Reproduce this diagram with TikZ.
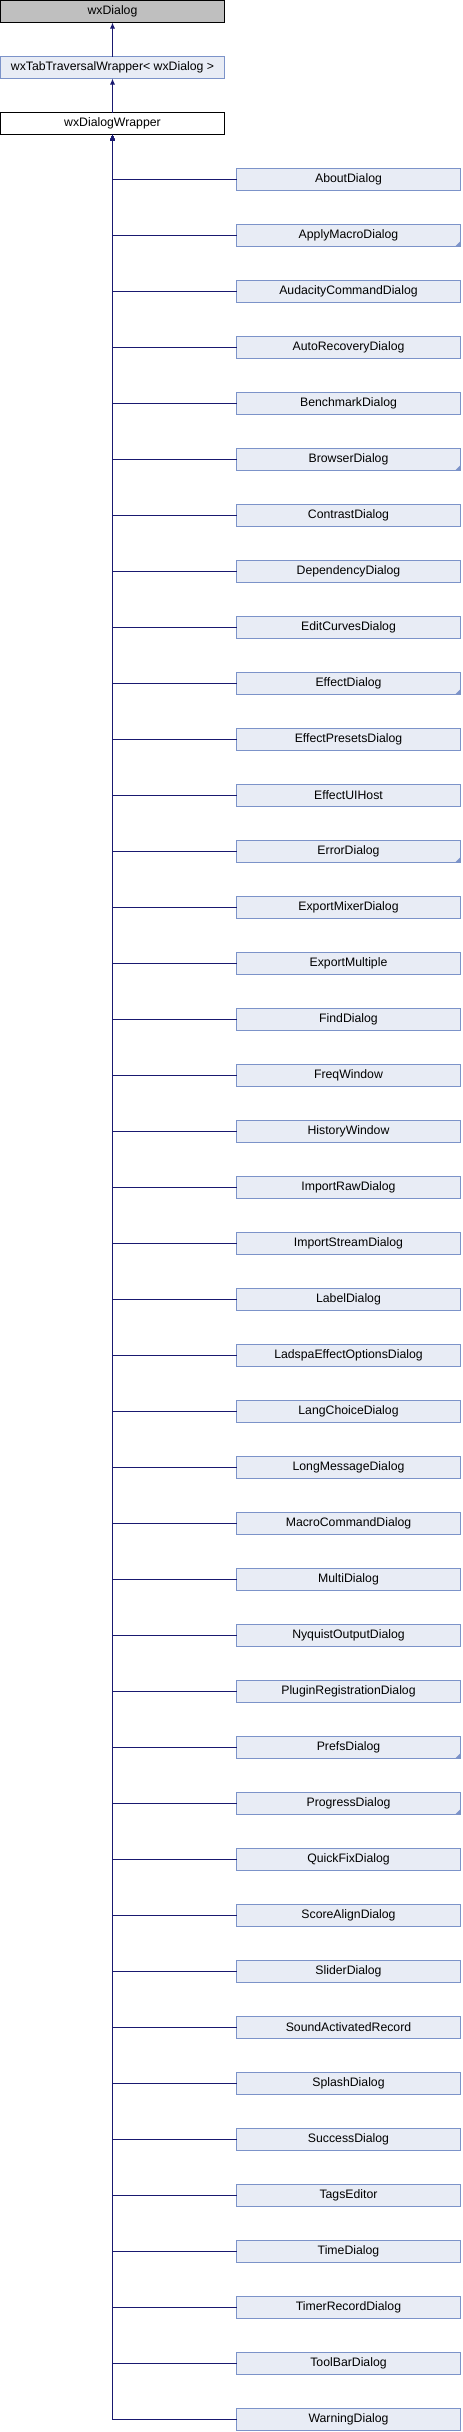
\documentclass[tikz,border=0pt]{standalone}
\usepackage{fontspec}
\setmainfont{Liberation Sans}
\usetikzlibrary{arrows.meta,positioning}
\definecolor{edgeblue}{RGB}{25,25,112}
\definecolor{clsfill}{RGB}{232,236,245}
\definecolor{clsdraw}{RGB}{124,147,201}
\definecolor{basefill}{RGB}{191,191,191}

\begin{document}
\begin{tikzpicture}[node distance=25.5pt and 9pt,
    every node/.style={minimum width=168pt,minimum height=16.5pt,inner sep=0pt,outer sep=0pt,
      line width=0.75pt,font=\fontsize{9.2}{11}\selectfont},
    base/.style={draw=black,fill=basefill},
    plain/.style={draw=black,fill=white},
    cls/.style={draw=clsdraw,fill=clsfill},
    more/.style={cls,path picture={\fill[clsdraw] (path picture bounding box.south east)
      -- ++(-4pt,0) -- ++(4pt,4pt) -- cycle;}},
    inh/.style={draw=edgeblue,line width=0.75pt,-{Latex[length=4.5pt,width=3.75pt]}}]
    \useasboundingbox (0,0) rectangle (346.5pt,-1824pt);

    \node [base] (wxd) at (84.375pt,-8.625pt) {wxDialog};
    \node [cls] (tabw) [below=of wxd] {wxTabTraversalWrapper< wxDialog >};
    \node [plain] (wrap) [below=of tabw] {wxDialogWrapper};

    \draw[inh] (tabw) -- (wxd);
    \draw[inh] (wrap) -- (tabw);

    \node [cls] (about) [below right=25.5pt and 9pt of wrap] {AboutDialog};
    \node [more] (applymacro) [below=of about] {ApplyMacroDialog};
    \node [cls] (audcmd) [below=of applymacro] {AudacityCommandDialog};
    \node [cls] (autorec) [below=of audcmd] {AutoRecoveryDialog};
    \node [cls] (bench) [below=of autorec] {BenchmarkDialog};
    \node [more] (browser) [below=of bench] {BrowserDialog};
    \node [cls] (contrast) [below=of browser] {ContrastDialog};
    \node [cls] (depend) [below=of contrast] {DependencyDialog};
    \node [cls] (editcurves) [below=of depend] {EditCurvesDialog};
    \node [more] (effect) [below=of editcurves] {EffectDialog};
    \node [cls] (effpresets) [below=of effect] {EffectPresetsDialog};
    \node [cls] (effuihost) [below=of effpresets] {EffectUIHost};
    \node [more] (error) [below=of effuihost] {ErrorDialog};
    \node [cls] (expmixer) [below=of error] {ExportMixerDialog};
    \node [cls] (expmulti) [below=of expmixer] {ExportMultiple};
    \node [cls] (find) [below=of expmulti] {FindDialog};
    \node [cls] (freq) [below=of find] {FreqWindow};
    \node [cls] (history) [below=of freq] {HistoryWindow};
    \node [cls] (impraw) [below=of history] {ImportRawDialog};
    \node [cls] (impstream) [below=of impraw] {ImportStreamDialog};
    \node [cls] (label) [below=of impstream] {LabelDialog};
    \node [cls] (ladspa) [below=of label] {LadspaEffectOptionsDialog};
    \node [cls] (langchoice) [below=of ladspa] {LangChoiceDialog};
    \node [cls] (longmsg) [below=of langchoice] {LongMessageDialog};
    \node [cls] (macrocmd) [below=of longmsg] {MacroCommandDialog};
    \node [cls] (multi) [below=of macrocmd] {MultiDialog};
    \node [cls] (nyquist) [below=of multi] {NyquistOutputDialog};
    \node [cls] (pluginreg) [below=of nyquist] {PluginRegistrationDialog};
    \node [more] (prefs) [below=of pluginreg] {PrefsDialog};
    \node [more] (progress) [below=of prefs] {ProgressDialog};
    \node [cls] (quickfix) [below=of progress] {QuickFixDialog};
    \node [cls] (scorealign) [below=of quickfix] {ScoreAlignDialog};
    \node [cls] (slider) [below=of scorealign] {SliderDialog};
    \node [cls] (soundact) [below=of slider] {SoundActivatedRecord};
    \node [cls] (splash) [below=of soundact] {SplashDialog};
    \node [cls] (success) [below=of splash] {SuccessDialog};
    \node [cls] (tags) [below=of success] {TagsEditor};
    \node [cls] (time) [below=of tags] {TimeDialog};
    \node [cls] (timerrec) [below=of time] {TimerRecordDialog};
    \node [cls] (toolbar) [below=of timerrec] {ToolBarDialog};
    \node [cls] (warning) [below=of toolbar] {WarningDialog};

    \draw[inh] (about.west) -| (wrap.south);
    \draw[inh] (applymacro.west) -| (wrap.south);
    \draw[inh] (audcmd.west) -| (wrap.south);
    \draw[inh] (autorec.west) -| (wrap.south);
    \draw[inh] (bench.west) -| (wrap.south);
    \draw[inh] (browser.west) -| (wrap.south);
    \draw[inh] (contrast.west) -| (wrap.south);
    \draw[inh] (depend.west) -| (wrap.south);
    \draw[inh] (editcurves.west) -| (wrap.south);
    \draw[inh] (effect.west) -| (wrap.south);
    \draw[inh] (effpresets.west) -| (wrap.south);
    \draw[inh] (effuihost.west) -| (wrap.south);
    \draw[inh] (error.west) -| (wrap.south);
    \draw[inh] (expmixer.west) -| (wrap.south);
    \draw[inh] (expmulti.west) -| (wrap.south);
    \draw[inh] (find.west) -| (wrap.south);
    \draw[inh] (freq.west) -| (wrap.south);
    \draw[inh] (history.west) -| (wrap.south);
    \draw[inh] (impraw.west) -| (wrap.south);
    \draw[inh] (impstream.west) -| (wrap.south);
    \draw[inh] (label.west) -| (wrap.south);
    \draw[inh] (ladspa.west) -| (wrap.south);
    \draw[inh] (langchoice.west) -| (wrap.south);
    \draw[inh] (longmsg.west) -| (wrap.south);
    \draw[inh] (macrocmd.west) -| (wrap.south);
    \draw[inh] (multi.west) -| (wrap.south);
    \draw[inh] (nyquist.west) -| (wrap.south);
    \draw[inh] (pluginreg.west) -| (wrap.south);
    \draw[inh] (prefs.west) -| (wrap.south);
    \draw[inh] (progress.west) -| (wrap.south);
    \draw[inh] (quickfix.west) -| (wrap.south);
    \draw[inh] (scorealign.west) -| (wrap.south);
    \draw[inh] (slider.west) -| (wrap.south);
    \draw[inh] (soundact.west) -| (wrap.south);
    \draw[inh] (splash.west) -| (wrap.south);
    \draw[inh] (success.west) -| (wrap.south);
    \draw[inh] (tags.west) -| (wrap.south);
    \draw[inh] (time.west) -| (wrap.south);
    \draw[inh] (timerrec.west) -| (wrap.south);
    \draw[inh] (toolbar.west) -| (wrap.south);
    \draw[inh] (warning.west) -| (wrap.south);

\end{tikzpicture}
\end{document}
